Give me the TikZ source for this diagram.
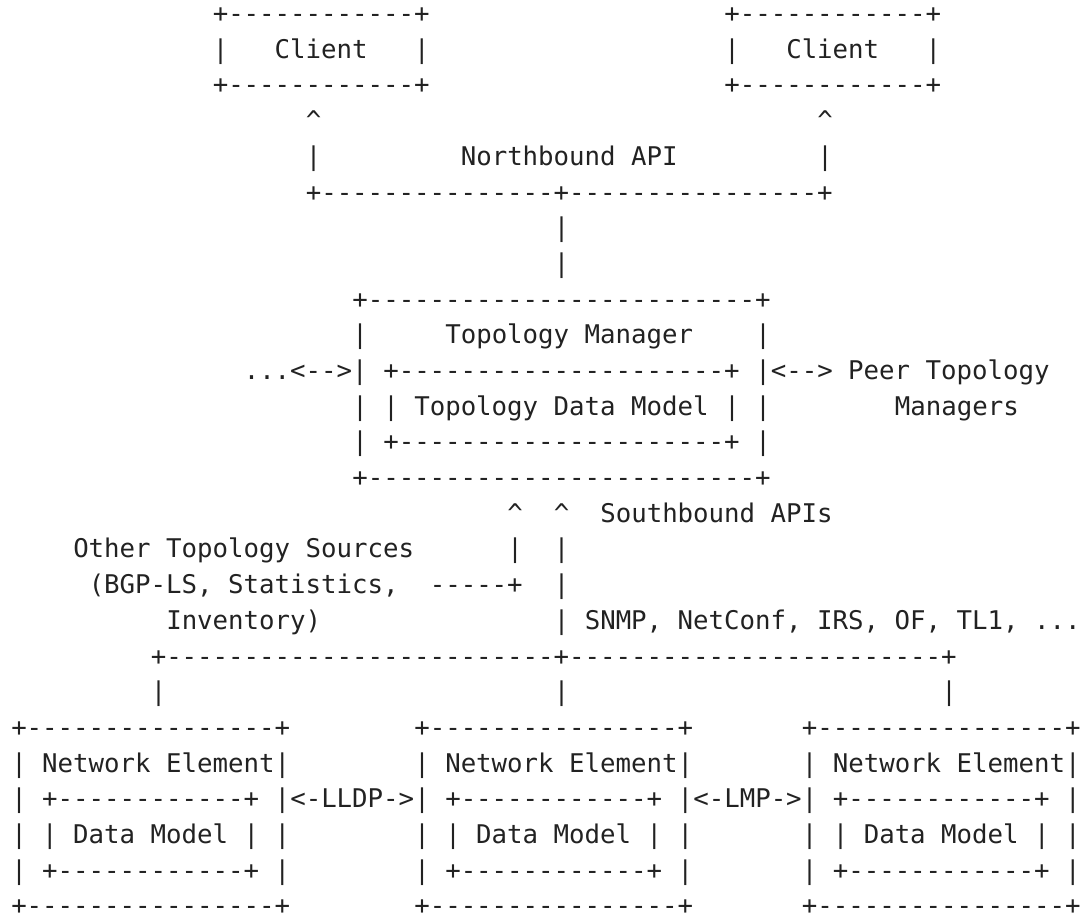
\documentclass[tikz,border=0pt]{standalone}
\usepackage{fontspec}
\newfontfamily\asciifont{DejaVu Sans Mono}
\definecolor{ink}{RGB}{34,34,34}
\tikzset{asc/.style={anchor=base west, inner sep=0pt, outer sep=0pt, text=ink,
  text depth=0pt, font=\asciifont\fontsize{25.745pt}{30pt}\selectfont}}
\newcommand\aseg[4]{\node[asc] (#1) at ({11.25+15.5*(#2)},{892.4-35.69*((#3)-1)}) {#4};}
\newcommand\up{\textasciicircum}
\begin{document}
\begin{tikzpicture}[x=1pt,y=1pt]
\useasboundingbox (0,0) rectangle (1087,915);
% clients
\aseg{c1t}{13}{1}{+------------+}
\aseg{c2t}{46}{1}{+------------+}
\aseg{c1m}{13}{2}{|\ \ \ Client\ \ \ |}
\aseg{c2m}{46}{2}{|\ \ \ Client\ \ \ |}
\aseg{c1b}{13}{3}{+------------+}
\aseg{c2b}{46}{3}{+------------+}
% northbound
\aseg{ar1}{19}{4}{\up}
\aseg{ar2}{52}{4}{\up}
\aseg{nl1}{19}{5}{|}
\aseg{nb}{29}{5}{Northbound\ API}
\aseg{nl2}{52}{5}{|}
\aseg{nbl}{19}{6}{+---------------+----------------+}
\aseg{v1}{35}{7}{|}
\aseg{v2}{35}{8}{|}
% topology manager
\aseg{tmt}{22}{9}{+-------------------------+}
\aseg{tm1}{22}{10}{|}
\aseg{tmn}{28}{10}{Topology\ Manager}
\aseg{tm2}{48}{10}{|}
\aseg{lp}{15}{11}{...<-->|}
\aseg{dmt}{24}{11}{+---------------------+}
\aseg{rp}{48}{11}{|<-->\ Peer\ Topology}
\aseg{tm3}{22}{12}{|\ |}
\aseg{dmn}{26}{12}{Topology\ Data\ Model}
\aseg{tm4}{46}{12}{|\ |}
\aseg{mgr}{57}{12}{Managers}
\aseg{tm5}{22}{13}{|}
\aseg{dmb}{24}{13}{+---------------------+}
\aseg{tm6}{48}{13}{|}
\aseg{tmb}{22}{14}{+-------------------------+}
% southbound
\aseg{sa1}{32}{15}{\up}
\aseg{sa2}{35}{15}{\up}
\aseg{sb}{38}{15}{Southbound\ APIs}
\aseg{ots}{4}{16}{Other\ Topology\ Sources}
\aseg{s1}{32}{16}{|}
\aseg{s2}{35}{16}{|}
\aseg{bgp}{5}{17}{(BGP-LS,\ Statistics,}
\aseg{od}{27}{17}{-----+}
\aseg{s3}{35}{17}{|}
\aseg{inv}{10}{18}{Inventory)}
\aseg{snmp}{35}{18}{|\ SNMP,\ NetConf,\ IRS,\ OF,\ TL1,\ ...}
\aseg{bus}{9}{19}{+-------------------------+------------------------+}
\aseg{d1}{9}{20}{|}
\aseg{d2}{35}{20}{|}
\aseg{d3}{60}{20}{|}
% network elements
\foreach \c/\n in {0/a,26/b,51/c}{
  \aseg{ne\n1}{\c}{21}{+----------------+}
  \aseg{ne\n2}{\c}{22}{|\ Network\ Element|}
  \aseg{ne\n3}{\c}{23}{|\ +------------+\ |}
  \aseg{ne\n4}{\c}{24}{|\ |\ Data\ Model\ |\ |}
  \aseg{ne\n5}{\c}{25}{|\ +------------+\ |}
  \aseg{ne\n6}{\c}{26}{+----------------+}
}
\aseg{lldp}{18}{23}{<-LLDP->}
\aseg{lmp}{44}{23}{<-LMP->}
\end{tikzpicture}
\end{document}
